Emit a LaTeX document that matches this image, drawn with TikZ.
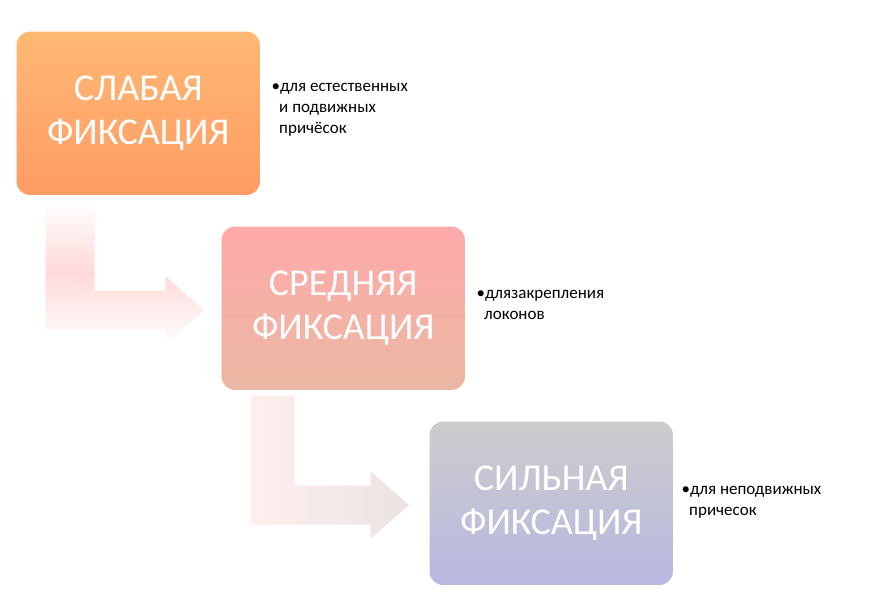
\documentclass[tikz,border=0pt]{standalone}
\usepackage{fontspec}
\setmainfont{Carlito}
\begin{document}
\begin{tikzpicture}[x=1pt,y=-1pt,
  box/.style={rounded corners=14pt,draw=white,line width=1.5pt,text=white,align=center,font=\fontsize{38}{44}\selectfont,minimum width=245pt,minimum height=165pt,anchor=north west},
  note/.style={anchor=north west,align=left,font=\fontsize{17}{21}\selectfont},
  bentarrow/.style={draw=white,line width=1pt}]
\useasboundingbox (0,0) rectangle (872,611);
\path[bentarrow,top color=white,bottom color=white,middle color=pink!60!white]
  (45,200)--(95,200)--(95,290)--(165,290)--(165,275)--(205,310)--(165,345)--(165,330)--(45,330)--cycle;
\path[bentarrow,left color=pink!25!white,right color=pink!50!gray!30!white]
  (250,395)--(295,395)--(295,485)--(370,485)--(370,470)--(410,505)--(370,540)--(370,525)--(250,525)--cycle;
\node[box,top color=orange!55!white,bottom color=orange!70!red!60!white] (a) at (15,30) {СЛАБАЯ\\ФИКСАЦИЯ};
\node[box,top color=red!30!pink!70!white,bottom color=red!25!brown!45!white] (b) at (220,225) {СРЕДНЯЯ\\ФИКСАЦИЯ};
\node[box,top color=gray!40!white,bottom color=gray!60!blue!40!white] (c) at (428,420) {СИЛЬНАЯ\\ФИКСАЦИЯ};
\node[note] (na) at (268,80) {•для естественных\\\ \ и подвижных\\\ \ причёсок};
\node[note] (nb) at (473,287) {•длязакрепления\\\ \ локонов};
\node[note] (nc) at (678,483) {•для неподвижных\\\ \ причесок};
\end{tikzpicture}
\end{document}
